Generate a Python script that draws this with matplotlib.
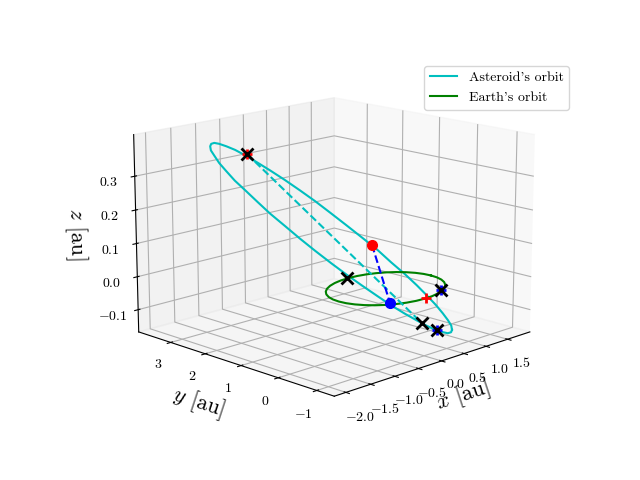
import matplotlib
matplotlib.use("Agg")
import matplotlib.pyplot as plt

plt.rcParams['font.family'] = ['cmr10']
plt.rcParams['mathtext.fontset'] = 'cm'
plt.rcParams['axes.formatter.use_mathtext'] = True
plt.rcParams['axes.unicode_minus'] = False

# asteroid orbit
ast_x = [1.15,0.97,0.77,0.57,0.35,0.12,-0.1,-0.33,-0.55,-0.76,-0.96,-1.15,-1.32,-1.47,-1.6,-1.7,-1.79,-1.84,-1.87,-1.88,-1.85,-1.8,-1.71,-1.61,-1.47,-1.31,-1.13,-0.94,-0.72,-0.49,-0.26,-0.02,0.22,0.46,0.69,0.9,1.09,1.26,1.41,1.53,1.61,1.67,1.69,1.67,1.63,1.55,1.44,1.31,1.15]
ast_y = [-0.4,-0.58,-0.72,-0.82,-0.89,-0.92,-0.92,-0.88,-0.8,-0.7,-0.56,-0.39,-0.2,0.02,0.25,0.51,0.77,1.04,1.32,1.6,1.88,2.14,2.4,2.64,2.86,3.06,3.23,3.36,3.46,3.53,3.55,3.54,3.48,3.38,3.25,3.07,2.87,2.63,2.37,2.08,1.79,1.48,1.17,0.87,0.58,0.3,0.04,-0.2,-0.4]
ast_z = [-0.159,-0.153,-0.143,-0.128,-0.11,-0.087,-0.062,-0.034,-0.004,0.028,0.061,0.095,0.129,0.163,0.196,0.228,0.258,0.286,0.312,0.334,0.354,0.369,0.381,0.388,0.391,0.389,0.383,0.372,0.356,0.337,0.313,0.285,0.254,0.22,0.184,0.147,0.109,0.071,0.034,-0.001,-0.035,-0.065,-0.092,-0.114,-0.133,-0.147,-0.155,-0.159,-0.159]

# earth orbit
earth_x = [1,.985,.94,.866,.766,.643,.5,.342,.174,0,-.174,-.342,-.5,-.643,-.766,-.866,-.94,-.985,-1,-.985,-.94,-.866,-.766,-.643,-.5,-.342,-.174,0,.174,.342,.5,.643,.766,.866,.94,.985,1]
earth_y = [0,.174,.342,.5,.643,.766,.866,.94,.985,1,.985,.94,.866,.766,.643,.5,.342,.174,0,-.174,-.342,-.5,-.643,-.766,-.866,-.94,-.985,-1,-.985,-.94,-.866,-.766,-.643,-.5,-.342,-.174,0]
earth_z = [0] * 37

# marked positions
cross_x = [-0.104,-1.283,0.398,0.028,0.511]
cross_y = [3.72,-0.566,-0.864,-0.905,-0.824]
cross_z = [0.309,0.096,-0.113,-0.076,0.0]
red_plus_x = [-0.104,1.488]
red_plus_y = [3.72,0.683]
red_plus_z = [0.309,-0.109]
blue_plus_x = [0.511,0.398]
blue_plus_y = [-0.824,-0.864]
blue_plus_z = [0.0,-0.113]
apsis_x = [-0.104,0.028]
apsis_y = [3.72,-0.905]
apsis_z = [0.309,-0.076]
link_x = [1.523,-0.525]
link_y = [2.228,-0.738]
link_z = [0.011,0.0]

x_ticks = [-2, -1.5, -1, -.5, 0, .5, 1, 1.5]
y_ticks = [-1, 0, 1, 2, 3]
z_ticks = [-.1, 0, .1, .2, .3]

fig = plt.figure(figsize=(6.4, 4.8), dpi=100)
ax = fig.add_axes([0.127, 0.116, 0.775, 0.77], projection='3d')
ax.computed_zorder = False
ax.view_init(elev=14.5, azim=-135)
ax.set_box_aspect((4, 4, 2.91), zoom=1.17)

ax.plot(ast_x, ast_y, ast_z, color='c', label="Asteroid's orbit", zorder=2)
ax.plot(earth_x, earth_y, earth_z, color='g', label="Earth's orbit", zorder=2)
ax.plot(apsis_x, apsis_y, apsis_z, color='c', linestyle='--', zorder=2)
ax.plot(link_x, link_y, link_z, color='b', linestyle='--', zorder=3)
ax.plot(link_x[:1], link_y[:1], link_z[:1], 'ro', ms=7, zorder=4)
ax.plot(link_x[1:], link_y[1:], link_z[1:], 'bo', ms=7, zorder=4)
ax.plot(red_plus_x, red_plus_y, red_plus_z, 'r+', ms=7, mew=2, zorder=4)
ax.plot(blue_plus_x, blue_plus_y, blue_plus_z, 'b+', ms=7, mew=2, zorder=4)
ax.plot(cross_x, cross_y, cross_z, 'kx', ms=8, mew=2, zorder=5)

ax.set_xlim(-2.23, 2.03)
ax.set_ylim(-1.44, 3.96)
ax.set_zlim(-0.168, 0.422)
ax.set_xticks(x_ticks)
ax.set_yticks(y_ticks)
ax.set_zticks(z_ticks)
ax.tick_params(axis='x', pad=1)
ax.tick_params(axis='y', pad=0.5)
ax.tick_params(axis='z', pad=1)

ax.legend(loc='upper right', bbox_to_anchor=(569/640, 1-66/480), bbox_transform=fig.transFigure, borderaxespad=0)
ax.set_xlabel(r'$x$ [au]', fontsize=16, labelpad=-4)
ax.set_ylabel(r'$y$ [au]', fontsize=16, labelpad=0)
ax.set_zlabel(r'$z$ [au]', fontsize=16, labelpad=0)

fig.savefig('out.png')
